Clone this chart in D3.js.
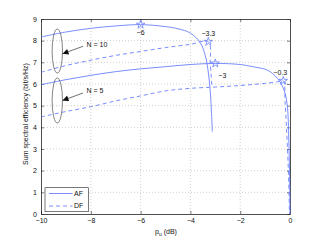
<!DOCTYPE html>
<html lang="en">
<head>
<meta charset="UTF-8">
<title>Sum spectral efficiency</title>
<script src="https://d3js.org/d3.v7.min.js"></script>
<style>
  body { margin: 0; background: #fff; }
  svg { display: block; font-family: "Liberation Sans", Arial, sans-serif; }
  .grid line { stroke: #b0b0b0; stroke-width: 0.6; stroke-dasharray: 1,2; }
  .curve { fill: none; stroke: #6a80ff; stroke-width: 0.9; }
  .dash { stroke-dasharray: 4,3; }
</style>
</head>
<body>
<svg width="321" height="242"></svg>
<script>
// x ticks and y ticks
const xTicks = [-10, -8, -6, -4, -2, 0];
const yTicks = [0, 1, 2, 3, 4, 5, 6, 7, 8, 9];

// N = 10, AF (solid)
const af10X = [-10, -9, -8, -7, -6, -5, -4.5, -4, -3.6, -3.4, -3.3, -3.2, -3.12];
const af10Y = [8.17, 8.4, 8.57, 8.68, 8.74, 8.65, 8.55, 8.35, 7.9, 7.3, 6.7, 5.6, 3.8];
// N = 10, DF (dashed)
const df10X = [-10, -9, -8, -7, -6, -5, -4, -3.28, -3.2, -3.14];
const df10Y = [6.54, 6.85, 7.1, 7.32, 7.5, 7.68, 7.83, 7.95, 6.9, 5.9];
// N = 5, AF (solid)
const af5X = [-10, -9, -8, -7, -6, -5, -4, -3, -2, -1.5, -1, -0.8, -0.6, -0.4, -0.2, -0.1, -0.05, -0.02, 0];
const af5Y = [5.97, 6.2, 6.4, 6.57, 6.7, 6.8, 6.9, 6.95, 6.9, 6.8, 6.68, 6.57, 6.38, 6.1, 5.58, 4.9, 3.5, 2.0, 0];
// N = 5, DF (dashed)
const df5X = [-10, -9, -8, -7, -6, -5, -4, -3, -2, -1, -0.5, -0.27, -0.2, -0.12, -0.06, -0.02];
const df5Y = [4.48, 4.73, 4.95, 5.22, 5.45, 5.68, 5.8, 5.86, 5.93, 6.03, 6.1, 6.15, 5.2, 3.5, 1.8, 0];

// optimum points (stars) and their labels
const starX = [-6, -3.28, -3, -0.27];
const starY = [8.74, 7.95, 6.95, 6.15];
const starText = ["\u22126", "\u22123.3", "\u22123", "\u22120.3"];

const svg = d3.select("svg");
const m = { left: 41, right: 290, top: 19, bottom: 214 };
const x = d3.scaleLinear().domain([-10, 0]).range([m.left, m.right]);
const y = d3.scaleLinear().domain([0, 9]).range([m.bottom, m.top]);
const blue = "#6a80ff";

// grid
const grid = svg.append("g").attr("class", "grid");
grid.selectAll(".gx").data(xTicks.slice(1, -1)).enter().append("line")
  .attr("x1", d => x(d)).attr("x2", d => x(d)).attr("y1", m.top).attr("y2", m.bottom);
grid.selectAll(".gy").data(yTicks.slice(1, -1)).enter().append("line")
  .attr("y1", d => y(d)).attr("y2", d => y(d)).attr("x1", m.left).attr("x2", m.right);

// axes (ticks inward, box)
const axB = svg.append("g").attr("transform", `translate(0,${m.bottom})`)
  .call(d3.axisBottom(x).tickValues(xTicks).tickSizeInner(-3).tickSizeOuter(0)
    .tickFormat(d => d === 0 ? "0" : "\u2212" + Math.abs(d)));
const axL = svg.append("g").attr("transform", `translate(${m.left},0)`)
  .call(d3.axisLeft(y).tickValues(yTicks).tickSizeInner(-3).tickSizeOuter(0));
const axT = svg.append("g").attr("transform", `translate(0,${m.top})`)
  .call(d3.axisTop(x).tickValues(xTicks).tickSizeInner(-3).tickSizeOuter(0).tickFormat(""));
const axR = svg.append("g").attr("transform", `translate(${m.right},0)`)
  .call(d3.axisRight(y).tickValues(yTicks).tickSizeInner(-3).tickSizeOuter(0).tickFormat(""));
[axB, axL, axT, axR].forEach(a => {
  a.select(".domain").attr("stroke", "#222").attr("stroke-width", 0.8);
  a.selectAll(".tick line").attr("stroke", "#222").attr("stroke-width", 0.6);
  a.selectAll("text").attr("font-size", 7).attr("font-family", "Liberation Sans, Arial, sans-serif").attr("fill", "#111");
});
axB.selectAll("text").attr("dy", "0.71em").attr("y", 4.5);
axL.selectAll("text").attr("x", -4);

// curves
const lineNM = d3.line().x(d => x(d[0])).y(d => y(d[1])).curve(d3.curveCatmullRom.alpha(0.5));
const series = [
  { xs: af10X, ys: af10Y, dash: false },
  { xs: df10X, ys: df10Y, dash: true },
  { xs: af5X, ys: af5Y, dash: false },
  { xs: df5X, ys: df5Y, dash: true }
];
series.forEach(s => {
  svg.append("path")
    .attr("class", "curve" + (s.dash ? " dash" : ""))
    .attr("d", lineNM(s.xs.map((v, i) => [v, s.ys[i]])));
});

// stars
const star = d3.symbol().type(d3.symbolStar).size(22);
svg.selectAll(".star").data(starX).enter().append("path")
  .attr("d", star)
  .attr("transform", (d, i) => `translate(${x(d)},${y(starY[i])})`)
  .attr("fill", "none").attr("stroke", blue).attr("stroke-width", 0.8);

// star labels
const labOff = [[0, 7.5], [0, -8], [7, 12.5], [-3, -8]];
svg.selectAll(".slab").data(starText).enter().append("text")
  .attr("x", (d, i) => x(starX[i]) + labOff[i][0])
  .attr("y", (d, i) => y(starY[i]) + labOff[i][1])
  .attr("dy", "0.35em")
  .attr("text-anchor", "middle")
  .attr("font-size", 7).attr("fill", "#111")
  .text(d => d);

// ellipses and arrows
const ell = [{ cx: 57.3, cy: 51, ry: 22, label: "N = 10", ty: 44.3 }, { cx: 57.3, cy: 100.5, ry: 22.5, label: "N = 5", ty: 91 }];
svg.append("defs").append("marker")
  .attr("id", "ah").attr("viewBox", "0 0 10 10").attr("refX", 10).attr("refY", 5)
  .attr("markerWidth", 9).attr("markerHeight", 6).attr("orient", "auto").attr("markerUnits", "userSpaceOnUse")
  .append("path").attr("d", "M0,0L10,5L0,10z").attr("fill", "#111");
ell.forEach(e => {
  svg.append("ellipse").attr("cx", e.cx).attr("cy", e.cy).attr("rx", 5.2).attr("ry", e.ry)
    .attr("fill", "none").attr("stroke", "#333").attr("stroke-width", 0.6);
  svg.append("line").attr("x1", 83).attr("y1", e.ty + 2).attr("x2", 62.5).attr("y2", e.ty + 9.5)
    .attr("stroke", "#111").attr("stroke-width", 0.6).attr("marker-end", "url(#ah)");
  svg.append("text").attr("x", 86.5).attr("y", e.ty).attr("dy", "0.35em")
    .attr("font-size", 7).attr("fill", "#111").text(e.label);
});

// legend
const lg = svg.append("g");
lg.append("rect").attr("x", 45).attr("y", 187.7).attr("width", 43.3).attr("height", 24)
  .attr("fill", "#fff").attr("stroke", "#222").attr("stroke-width", 0.6);
[["AF", false, 193.5], ["DF", true, 206]].forEach(([t, dash, yy]) => {
  lg.append("line").attr("class", "curve" + (dash ? " dash" : ""))
    .attr("x1", 49).attr("x2", 72.5).attr("y1", yy).attr("y2", yy);
  lg.append("text").attr("x", 74).attr("y", yy).attr("dy", "0.35em")
    .attr("font-size", 7).attr("fill", "#111").text(t);
});

// axis titles
const xt = svg.append("text").attr("x", 166).attr("y", 234).attr("text-anchor", "middle")
  .attr("font-size", 7).attr("fill", "#111");
xt.append("tspan").text("p");
xt.append("tspan").attr("font-size", 5).attr("dy", 2).text("u");
xt.append("tspan").attr("dy", -2).text(" (dB)");

svg.append("text").attr("transform", "translate(28,114) rotate(-90)")
  .attr("text-anchor", "middle").attr("font-size", 7).attr("fill", "#111")
  .text("Sum spectral efficiency (bit/s/Hz)");
</script>
</body>
</html>
